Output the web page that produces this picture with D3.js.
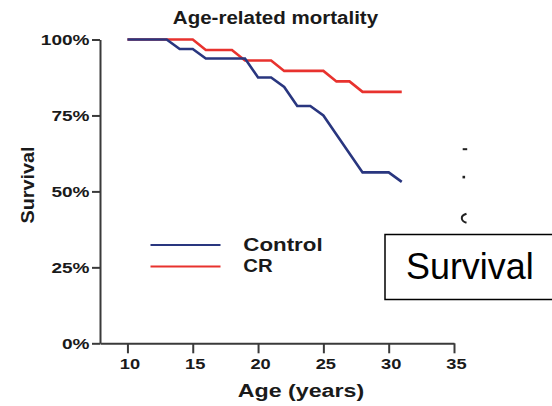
<!DOCTYPE html>
<html>
<head>
<meta charset="utf-8">
<script src="https://cdn.jsdelivr.net/npm/d3@7"></script>
<style>
  html, body { margin: 0; padding: 0; background: #fff; }
  svg { display: block; }
  text { font-family: "Liberation Sans", Arial, Helvetica, sans-serif; }
</style>
</head>
<body>
<svg id="chart" width="552" height="406"></svg>
<script>
// ---- data ----
const ages = [10,11,12,13,14,15,16,17,18,19,20,21,22,23,24,25,26,27,28,29,30,31];
const controlSurvival = [100,100,100,100,96.875,96.875,93.75,93.75,93.75,93.75,87.5,87.5,84.375,78.125,78.125,75,68.75,62.5,56.25,56.25,56.25,53.125];
const crSurvival = [100,100,100,100,100,100,96.55,96.55,96.55,93.1,93.1,93.1,89.66,89.66,89.66,89.66,86.21,86.21,82.76,82.76,82.76,82.76];
const xTicks = [10,15,20,25,30,35];
const yTicks = [0,25,50,75,100];
const seriesNames = ["Control","CR"];
const titleText = "Age-related mortality";
const xLabel = "Age (years)";
const yLabel = "Survival";
const boxLabel = "Survival";

// ---- styles ----
const colors = { Control: "#29367f", CR: "#e8322e" };
const axisColor = "#3a3a3a";
const font = '"Liberation Sans", Arial, Helvetica, sans-serif';

const svg = d3.select("#chart");

function stretch(sel, k) {
  sel.each(function () {
    const L = this.getComputedTextLength();
    this.setAttribute("textLength", L * k);
    this.setAttribute("lengthAdjust", "spacingAndGlyphs");
  });
}

const x = d3.scaleLinear().domain([7.9, 35]).range([100, 454]);
const y = d3.scaleLinear().domain([0, 100]).range([343.3, 39.5]);

// title
svg.append("text")
  .attr("x", 275.5).attr("y", 24)
  .attr("text-anchor", "middle")
  .attr("font-size", 18).attr("font-weight", "bold").attr("fill", "#1a1a1a")
  .text(titleText)
  .call(stretch, 1.14);

// y axis
const yAxis = svg.append("g")
  .attr("transform", `translate(${x(7.9)},0)`)
  .call(d3.axisLeft(y).tickValues(yTicks).tickFormat(d => d + "%").tickSize(8).tickSizeOuter(0).tickPadding(2.5));
yAxis.select(".domain").attr("stroke", axisColor).attr("stroke-width", 2);
yAxis.selectAll(".tick line").attr("stroke", axisColor).attr("stroke-width", 2);
yAxis.selectAll(".tick text")
  .attr("font-family", font).attr("font-size", 14).attr("font-weight", "bold")
  .attr("fill", "#1a1a1a").attr("dy", "0.36em")
  .call(stretch, 1.36);

// x axis
const xAxis = svg.append("g")
  .attr("transform", `translate(0,${y(0)})`)
  .call(d3.axisBottom(x).tickValues(xTicks).tickSize(10).tickSizeOuter(0).tickPadding(4.5));
xAxis.select(".domain").attr("stroke", axisColor).attr("stroke-width", 2);
xAxis.selectAll(".tick line").attr("stroke", axisColor).attr("stroke-width", 2);
xAxis.selectAll(".tick text")
  .attr("font-family", font).attr("font-size", 15.5).attr("font-weight", "bold")
  .attr("fill", "#1a1a1a").attr("dx", 2)
  .call(stretch, 1.18);

// axis labels
svg.append("text")
  .attr("x", 301).attr("y", 396.5)
  .attr("text-anchor", "middle")
  .attr("font-size", 18).attr("font-weight", "bold").attr("fill", "#1a1a1a")
  .text(xLabel)
  .call(stretch, 1.29);

svg.append("text")
  .attr("transform", "translate(33.5,185) rotate(-90)")
  .attr("text-anchor", "middle")
  .attr("font-size", 19).attr("font-weight", "bold").attr("fill", "#1a1a1a")
  .text(yLabel)
  .call(stretch, 1.04);

// lines
const line = d3.line().x(d => x(d[0])).y(d => y(d[1]));
const series = [
  { name: "Control", values: ages.map((a, i) => [a, controlSurvival[i]]) },
  { name: "CR", values: ages.map((a, i) => [a, crSurvival[i]]) }
];
// draw CR first then Control on top
svg.selectAll("path.series")
  .data([series[1], series[0]])
  .enter().append("path")
  .attr("class", "series")
  .attr("d", d => line(d.values))
  .attr("fill", "none")
  .attr("stroke", d => colors[d.name])
  .attr("stroke-width", 2.6)
  .attr("stroke-linejoin", "miter");

// legend
const legend = svg.append("g");
seriesNames.forEach((name, i) => {
  const ly = 245 + i * 21.5;
  legend.append("line")
    .attr("x1", 150.5).attr("x2", 220.5)
    .attr("y1", ly).attr("y2", ly)
    .attr("stroke", colors[name]).attr("stroke-width", 2.2);
  legend.append("text")
    .attr("x", 243.3).attr("y", ly + 5.5)
    .attr("font-size", 18).attr("font-weight", "bold").attr("fill", "#1a1a1a")
    .text(name)
    .call(stretch, i === 0 ? 1.24 : 1.13);
});

// overlay box with "Survival"
svg.append("rect")
  .attr("x", 385).attr("y", 234.5)
  .attr("width", 200).attr("height", 65)
  .attr("fill", "#fff").attr("stroke", "#000").attr("stroke-width", 1.5);
svg.append("text")
  .attr("x", 406).attr("y", 278.5)
  .attr("font-size", 37).attr("fill", "#000")
  .text(boxLabel)
  .call(stretch, 0.97);

// cropped remnants at right edge of the chart area
const rem = svg.append("g").attr("fill", "#222");
rem.append("rect").attr("x", 462.7).attr("y", 148.2).attr("width", 4.5).attr("height", 2);
rem.append("rect").attr("x", 462.5).attr("y", 175.8).attr("width", 2.6).attr("height", 2.6);
rem.append("path")
  .attr("d", "M466.5,213.8 Q461.5,215.5 461.8,218.3 Q462,221.5 466.5,222.8")
  .attr("fill", "none").attr("stroke", "#222").attr("stroke-width", 2);
</script>
</body>
</html>
